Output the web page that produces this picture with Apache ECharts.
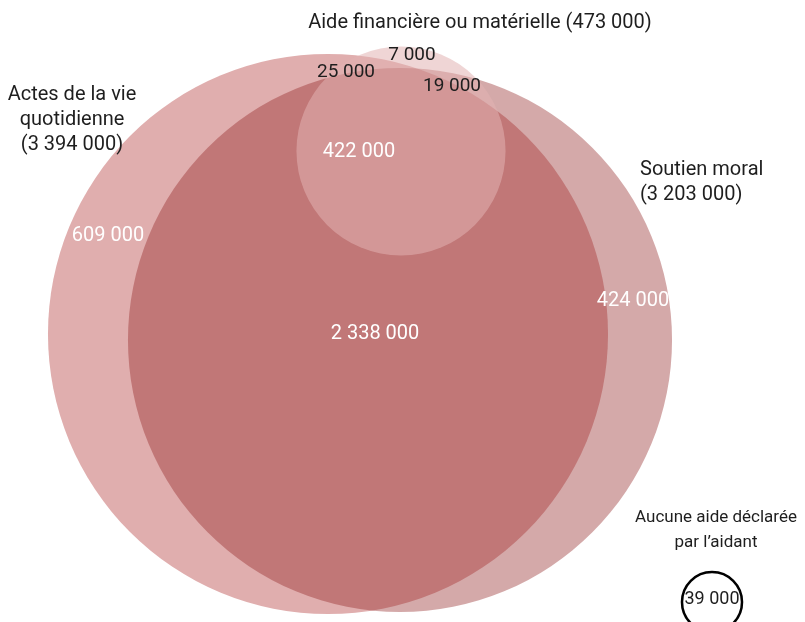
<!DOCTYPE html>
<html>
<head>
<meta charset="utf-8">
<script src="https://cdn.jsdelivr.net/npm/echarts@6/dist/echarts.min.js"></script>
<style>
  html, body { margin: 0; padding: 0; background: #fff; }
  #chart { width: 805px; height: 622px; }
</style>
</head>
<body>
<div id="chart"></div>
<script>
// ensembles : nom et effectif total
var setNames = ['Actes de la vie\nquotidienne', 'Soutien moral', 'Aide financière ou matérielle', 'Aucune aide déclarée\npar l’aidant'];
var setTotals = [3394000, 3203000, 473000, 39000];

// zones du diagramme et effectifs
var zoneNames = ['Actes seuls', 'Actes + soutien', 'Soutien seul', 'Les trois', 'Aide + actes', 'Aide + soutien', 'Aide seule', 'Aucune'];
var zoneValues = [609000, 2338000, 424000, 422000, 25000, 19000, 7000, 39000];

// mise en page (unites = pixels du repere cache)
var pxPerSqrt = 0.152; // rayon = pxPerSqrt * racine(effectif), aires proportionnelles
var circleCenter = [[328, 334], [400, 340], [401, 151], [712, 602]];
var circleFill = ['#e0aeae', 'rgba(145,34,34,0.39)', 'rgba(226,179,179,0.55)', 'rgba(0,0,0,0)'];
var circleStroke = [null, null, null, '#000'];
var setLabelPos = [[72, 120], [640, 182], [480, 23], [716, 530]];
var setLabelAlign = ['center', 'left', 'center', 'center'];
var setLabelSep = ['\n', '\n', ' ', null];
var setLabelSize = [20, 20, 20, 17];
var zoneLabelPos = [[108, 236], [375, 334], [633, 301], [359, 152], [346, 72], [452, 86], [412, 55], [712, 599]];
var zoneLabelColor = ['#fff', '#fff', '#fff', '#fff', '#1e1e1e', '#1e1e1e', '#1e1e1e', '#1e1e1e'];
var zoneLabelSize = [20, 20, 20, 20, 19, 19, 19, 18];
var font = 'Roboto';

function fmt(v) {
  return String(v).replace(/\B(?=(\d{3})+(?!\d))/g, ' ');
}

var circleData = setTotals.map(function (v, i) {
  return [circleCenter[i][0], circleCenter[i][1], pxPerSqrt * Math.sqrt(v)];
});

var setLabelData = setNames.map(function (n, i) {
  var txt = setLabelSep[i] === null ? n : n + setLabelSep[i] + '(' + fmt(setTotals[i]) + ')';
  return { value: [setLabelPos[i][0], setLabelPos[i][1]], txt: txt, align: setLabelAlign[i], color: '#1e1e1e', size: setLabelSize[i] };
});

var zoneLabelData = zoneValues.map(function (v, i) {
  return { value: [zoneLabelPos[i][0], zoneLabelPos[i][1]], txt: fmt(v), align: 'center', color: zoneLabelColor[i], size: zoneLabelSize[i] };
});

var myChart = echarts.init(document.getElementById('chart'));

function textItem(list) {
  return function (params, api) {
    var d = list[params.dataIndex];
    var c = api.coord([api.value(0), api.value(1)]);
    return {
      type: 'text',
      x: c[0],
      y: c[1],
      style: {
        text: d.txt,
        fill: d.color,
        fontFamily: font,
        fontSize: d.size,
        lineHeight: 25,
        align: d.align,
        verticalAlign: 'middle'
      }
    };
  };
}

var option = {
  animation: false,
  grid: { left: 0, right: 0, top: 0, bottom: 0 },
  xAxis: { type: 'value', min: 0, max: 805, show: false },
  yAxis: { type: 'value', min: 0, max: 622, inverse: true, show: false },
  series: [
    {
      name: 'ensembles',
      type: 'custom',
      data: circleData,
      renderItem: function (params, api) {
        var i = params.dataIndex;
        var c = api.coord([api.value(0), api.value(1)]);
        var r = api.size([api.value(2), 0])[0];
        return {
          type: 'circle',
          shape: { cx: c[0], cy: c[1], r: r },
          style: {
            fill: circleFill[i],
            stroke: circleStroke[i],
            lineWidth: circleStroke[i] ? 2.5 : 0
          }
        };
      }
    },
    {
      name: 'zones',
      type: 'custom',
      data: zoneLabelData,
      renderItem: textItem(zoneLabelData)
    },
    {
      name: 'noms',
      type: 'custom',
      data: setLabelData,
      renderItem: textItem(setLabelData)
    }
  ]
};

myChart.setOption(option);
</script>
</body>
</html>
